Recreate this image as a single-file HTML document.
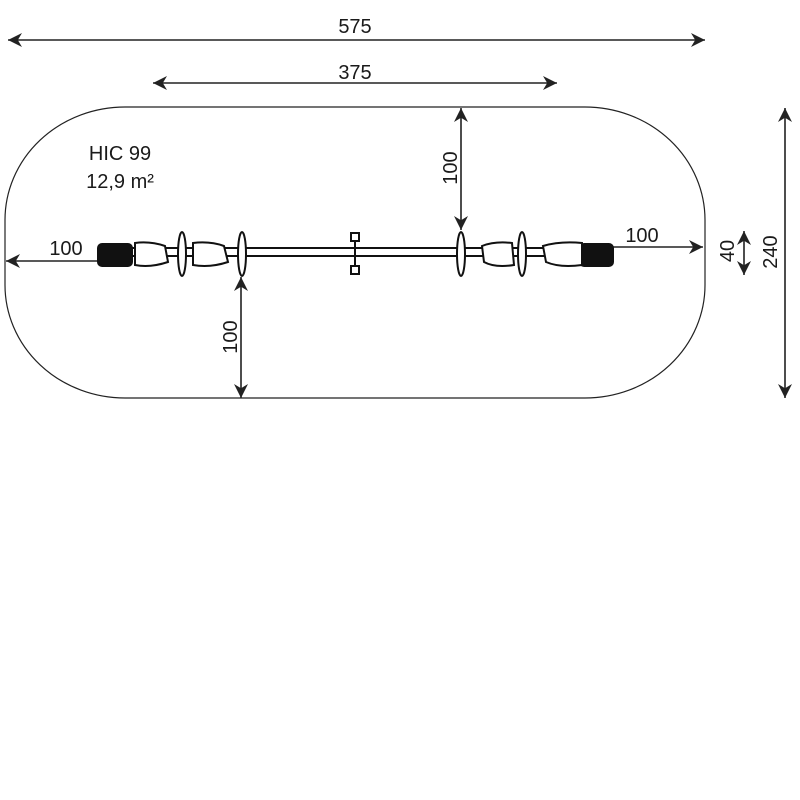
<!DOCTYPE html>
<html><head><meta charset="utf-8"><style>html,body{margin:0;background:#fff}svg{display:block}text{font-family:"Liberation Sans",sans-serif;fill:#1a1a1a}</style></head><body>
<svg width="800" height="800" viewBox="0 0 800 800" xmlns="http://www.w3.org/2000/svg">
<defs>
<marker id="a" viewBox="0 0 10 10" refX="10" refY="5" markerWidth="14" markerHeight="14" markerUnits="userSpaceOnUse" orient="auto-start-reverse"><path d="M0,0 L10,5 L0,10 L3,5z" fill="#222"/></marker>
</defs>
<path d="M125,107 H585 A120,113 0 0 1 705,220 V285 A120,113 0 0 1 585,398 H125 A120,113 0 0 1 5,285 V220 A120,113 0 0 1 125,107 Z" fill="none" stroke="#222" stroke-width="1.2"/>
<g stroke="#222" stroke-width="1.6" fill="none">
<line x1="8" y1="40" x2="705" y2="40" marker-start="url(#a)" marker-end="url(#a)"/>
<line x1="153" y1="83" x2="557" y2="83" marker-start="url(#a)" marker-end="url(#a)"/>
<line x1="461" y1="108" x2="461" y2="230" marker-start="url(#a)" marker-end="url(#a)"/>
<line x1="241" y1="277" x2="241" y2="398" marker-start="url(#a)" marker-end="url(#a)"/>
<line x1="6" y1="261" x2="128" y2="261" marker-start="url(#a)"/>
<line x1="590" y1="247" x2="703" y2="247" marker-end="url(#a)"/>
<line x1="744" y1="231" x2="744" y2="275" marker-start="url(#a)" marker-end="url(#a)"/>
<line x1="785" y1="108" x2="785" y2="398" marker-start="url(#a)" marker-end="url(#a)"/>
</g>
<g font-size="20">
<text x="355" y="33" text-anchor="middle">575</text>
<text x="355" y="79" text-anchor="middle">375</text>
<text x="120" y="160" text-anchor="middle">HIC 99</text>
<text x="120" y="188" text-anchor="middle">12,9 m²</text>
<text x="66" y="255" text-anchor="middle">100</text>
<text x="642" y="242" text-anchor="middle">100</text>
<text transform="translate(457,168) rotate(-90)" text-anchor="middle">100</text>
<text transform="translate(237,337) rotate(-90)" text-anchor="middle">100</text>
<text transform="translate(734,251) rotate(-90)" text-anchor="middle">40</text>
<text transform="translate(777,252) rotate(-90)" text-anchor="middle">240</text>
</g>
<g stroke="#111" stroke-width="2" fill="#fff">
<rect x="120" y="248" width="490" height="8"/>
<rect x="351" y="233" width="8" height="8"/><rect x="351" y="266" width="8" height="8"/>
<line x1="355" y1="241" x2="355" y2="266"/>
<rect x="98" y="244" width="34" height="22" rx="4" fill="#111"/>
<rect x="580" y="244" width="33" height="22" rx="4" fill="#111"/>
<path d="M135,243 Q150,241 165,246 L168,262 Q150,268 135,265 Z"/>
<path d="M193,243 Q210,241 224,246 L228,262 Q210,268 193,265 Z"/>
<path d="M482,246 Q495,241 512,243 L514,265 Q495,268 484,262 Z"/>
<path d="M543,246 Q560,241 582,243 L582,265 Q560,268 546,262 Z"/>
<ellipse cx="182" cy="254" rx="4" ry="22"/>
<ellipse cx="242" cy="254" rx="4" ry="22"/>
<ellipse cx="461" cy="254" rx="4" ry="22"/>
<ellipse cx="522" cy="254" rx="4" ry="22"/>
</g>
</svg>
</body></html>
